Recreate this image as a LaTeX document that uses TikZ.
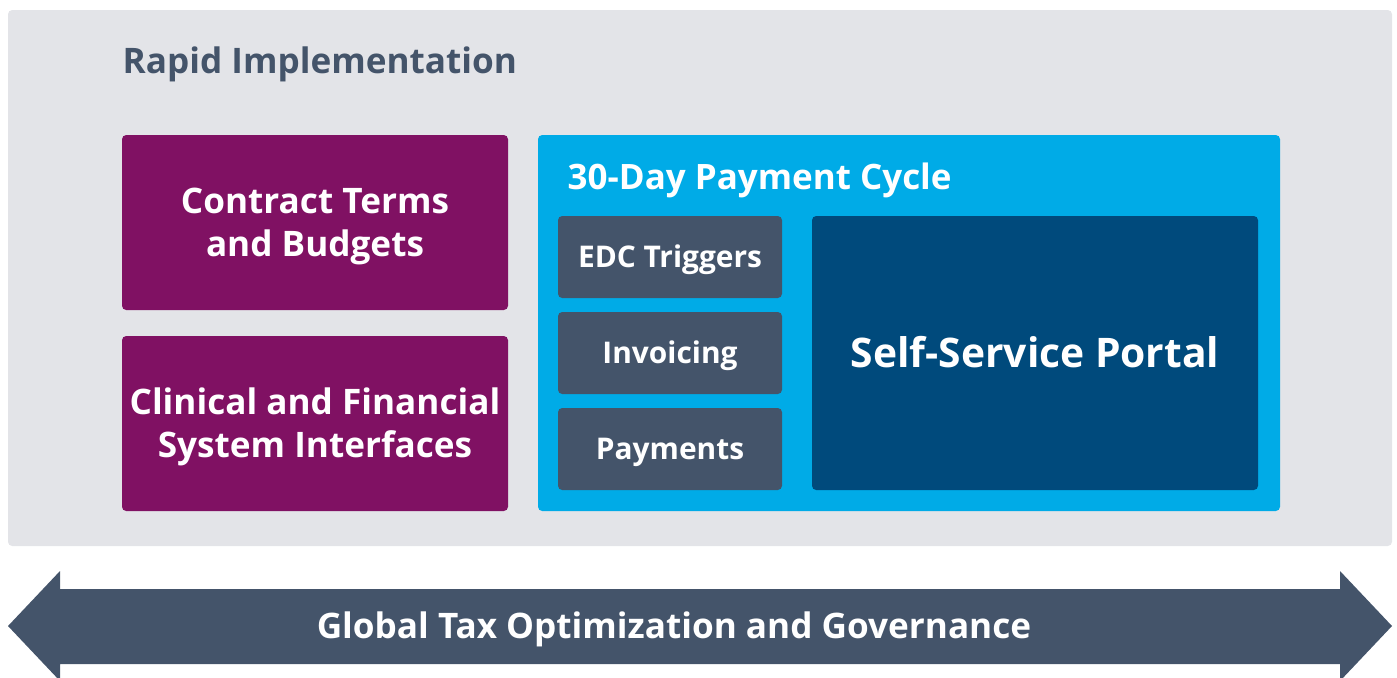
\documentclass[tikz,border=0pt]{standalone}
\usepackage{fontspec}
\setmainfont{Open Sans}
\definecolor{panelgray}{HTML}{E3E4E8}
\definecolor{plum}{HTML}{801163}
\definecolor{sky}{HTML}{00ABE7}
\definecolor{slate}{HTML}{44546A}
\definecolor{navy}{HTML}{004A7C}
\tikzset{
  block/.style={rectangle, rounded corners=1.2pt, inner sep=0pt, align=center,
    text=white, font=\bfseries},
  plumbox/.style={block, fill=plum, minimum width=3.86cm, minimum height=1.75cm,
    text height=19.1pt, text depth=0pt, font=\fontsize{10}{12}\selectfont\bfseries},
  stepbox/.style={block, fill=slate, minimum width=2.24cm, minimum height=0.82cm,
    text height=6.1pt, text depth=0pt, font=\fontsize{8.5}{10}\selectfont\bfseries}
}
\begin{document}
\begin{tikzpicture}[scale=1.0]
  \useasboundingbox (0,0) rectangle (13.97,6.77);

  % Grey panel and its heading
  \node[block, fill=panelgray, minimum width=13.84cm, minimum height=5.36cm] (panel) at (7.00,3.99) {};
  \node[anchor=base west, text=slate, font=\fontsize{10}{12}\selectfont\bfseries, inner sep=0pt]
    (heading) at (1.22,6.04) {Rapid Implementation};

  % Left column
  \node[plumbox] (terms) at (3.15,4.545) {Contract Terms\\and Budgets};
  \node[plumbox] (interfaces) at (3.15,2.535) {Clinical and Financial\\System Interfaces};

  % Payment cycle block
  \node[block, fill=sky, minimum width=7.42cm, minimum height=3.76cm] (cycle) at (9.09,3.54) {};
  \node[anchor=base west, text=white, font=\fontsize{9.95}{12}\selectfont\bfseries, inner sep=0pt]
    (cycletitle) at (5.67,4.88) {30-Day Payment Cycle};
  \node[stepbox] (edc) at (6.70,4.20) {EDC Triggers};
  \node[stepbox] (invoicing) at (6.70,3.24) {Invoicing};
  \node[stepbox] (payments) at (6.70,2.28) {Payments};
  \node[block, fill=navy, minimum width=4.46cm, minimum height=2.74cm, text height=8.3pt, text depth=0pt,
    font=\fontsize{11.6}{14}\selectfont\bfseries] (portal) at (10.35,3.24) {Self-Service Portal};

  % Double arrow along the bottom
  \fill[slate] (0.08,0.51) -- (0.60,1.06) -- (0.60,0.88) -- (13.40,0.88) -- (13.40,1.06)
    -- (13.92,0.51) -- (13.40,-0.04) -- (13.40,0.13) -- (0.60,0.13) -- (0.60,-0.04) -- cycle;
  \node[text=white, inner sep=0pt, text height=7.1pt, text depth=0pt, font=\fontsize{10}{12}\selectfont\bfseries]
    (governance) at (6.74,0.51) {Global Tax Optimization and Governance};

\end{tikzpicture}
\end{document}
